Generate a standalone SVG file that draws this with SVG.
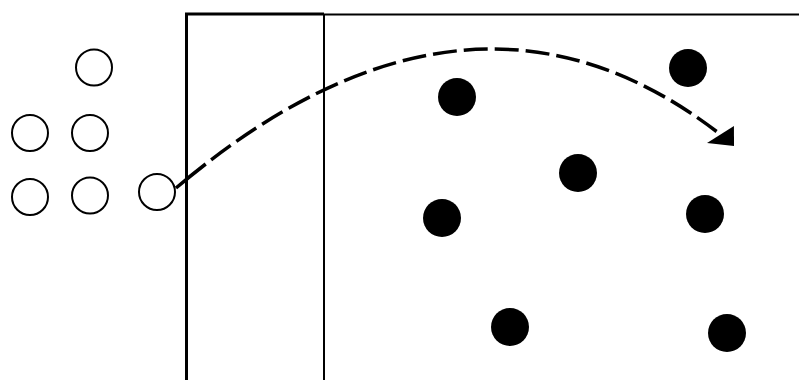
<svg xmlns="http://www.w3.org/2000/svg" width="799" height="380" viewBox="0 0 799 380">
<style>
.open{fill:#fff;stroke:#000;stroke-width:2}
.dot{fill:#000}
.frame{fill:none;stroke:#000}
.conn{fill:none;stroke:#000;stroke-width:3.5;stroke-dasharray:38 7 24 7 24 7 24 7 24 7 24 7 24 7 24 7 24 7 24 7 24 7 24 7 24 7 24 7 24 7 24 7 24 7 24 7 24 7 24 7 24 7 24 7 24 7}
</style>
<defs>
<marker id="ah" markerUnits="userSpaceOnUse" markerWidth="40" markerHeight="40" viewBox="-10 -20 30 40" refX="0" refY="0" orient="auto" overflow="visible">
<path d="M17.7,0.8 L5.4,-15 L-5.4,15 Z" fill="#000"/>
</marker>
</defs>
<g id="frame">
<path class="frame" d="M186.5,380 V14 H324" stroke-width="3"/>
<line class="frame" x1="324" y1="14" x2="324" y2="380" stroke-width="2"/>
<line class="frame" x1="324" y1="14.5" x2="799" y2="14.5" stroke-width="2"/>
</g>
<g id="open-circles">
<circle id="o1" class="open" cx="94" cy="67.5" r="18"/>
<circle id="o2" class="open" cx="30" cy="133" r="18"/>
<circle id="o3" class="open" cx="90" cy="133" r="18"/>
<circle id="o4" class="open" cx="30" cy="197" r="18"/>
<circle id="o5" class="open" cx="90" cy="195.5" r="18"/>
<circle id="o6" class="open" cx="157" cy="192" r="18"/>
</g>
<g id="filled-circles">
<circle id="f1" class="dot" cx="457" cy="97" r="19"/>
<circle id="f2" class="dot" cx="688" cy="68" r="19"/>
<circle id="f3" class="dot" cx="578" cy="173" r="19"/>
<circle id="f4" class="dot" cx="442" cy="218" r="19"/>
<circle id="f5" class="dot" cx="705" cy="214" r="19"/>
<circle id="f6" class="dot" cx="510" cy="327" r="19"/>
<circle id="f7" class="dot" cx="727" cy="333" r="19"/>
</g>
<g id="connectors">
<path class="conn" d="M176,188 Q470,-60 720.5,134.5" marker-end="url(#ah)"/>
</g>
</svg>
